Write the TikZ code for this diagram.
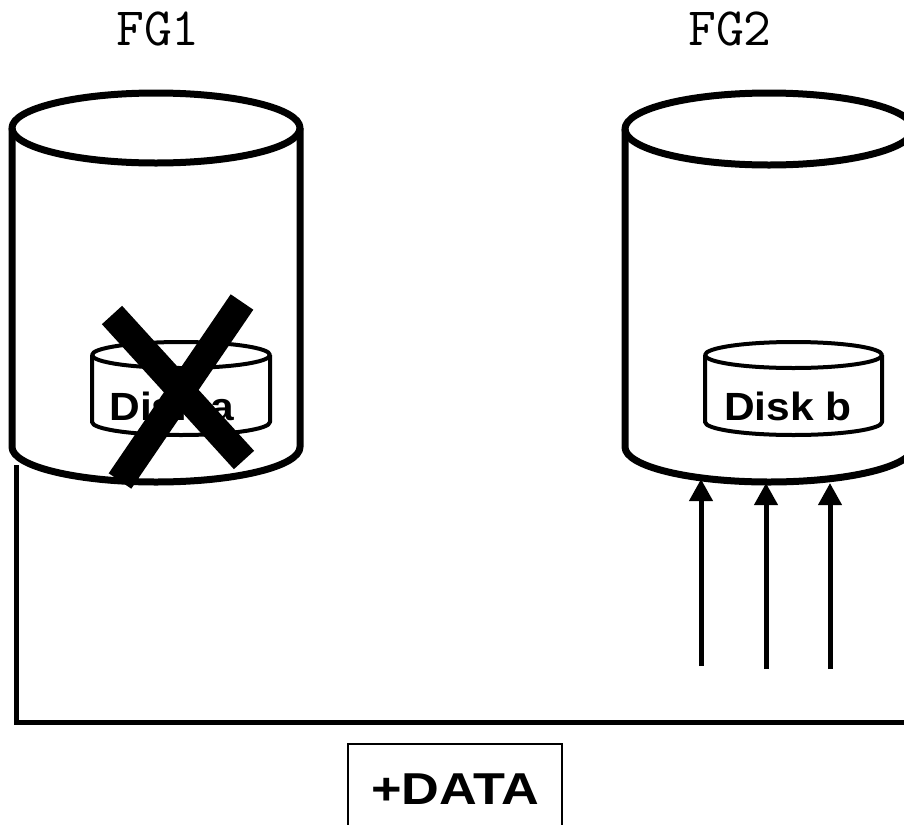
\documentclass[tikz,border=0pt]{standalone}
\usepackage{fontspec}
\setmainfont{Liberation Sans}
\newfontfamily\widesans[FakeStretch=1.17]{Liberation Sans}
\newfontfamily\disksans[FakeStretch=1.08]{Liberation Sans}
\usetikzlibrary{arrows.meta}
\tikzset{
  bigline/.style={line width=5.25pt, line join=round},
  diskline/.style={line width=3pt, line join=round},
  crossbar/.style={line width=20.5pt},
  flowline/.style={line width=3.75pt, -{Triangle[length=16.5pt,width=17pt]}},
  wireline/.style={line width=3.75pt, line join=miter},
  fglabel/.style={font=\ttfamily\fontsize{40.5}{46}\selectfont, inner sep=0pt},
  disklabel/.style={font=\disksans\bfseries\fontsize{29.5}{34}\selectfont, anchor=base, inner sep=0pt},
  databox/.style={draw, line width=1.1pt, minimum width=160.5pt, minimum height=68pt, inner sep=0pt, font=\widesans\bfseries\fontsize{33.5}{38}\selectfont}
}
\begin{document}
\begin{tikzpicture}[x=0.75pt,y=-0.75pt]
\useasboundingbox (0,0) rectangle (904,825);
\clip (0,0) rectangle (904,825);

% labels
\node[fglabel] (fg1) at (158,29) {FG1};
\node[fglabel] (fg2) at (730,29) {FG2};

% FG1 cylinder
\draw[bigline, fill=white] (12,128) -- (12,447) arc[start angle=180,end angle=360,x radius=108pt,y radius=26.25pt] -- (300,128);
\draw[bigline] (156,128) ellipse [x radius=108pt, y radius=26.25pt];

% Disk a
\draw[diskline, fill=white] (92,355) -- (92,422) arc[start angle=180,end angle=360,x radius=66.75pt,y radius=9.75pt] -- (270,355);
\draw[diskline] (181,355) ellipse [x radius=66.75pt, y radius=9.75pt];
\node[disklabel] (la) at (172,420) {Disk a};

% cross
\draw[crossbar] (242,302) -- (120,481);
\draw[crossbar] (112,315) -- (244,460);

% FG2 cylinder
\draw[bigline, fill=white] (625,129) -- (625,447) arc[start angle=180,end angle=360,x radius=108pt,y radius=26.25pt] -- (913,129);
\draw[bigline] (769,129) ellipse [x radius=108pt, y radius=27pt];

% Disk b
\draw[diskline, fill=white] (705,355) -- (705,422) arc[start angle=180,end angle=360,x radius=66.4pt,y radius=9.75pt] -- (882,355);
\draw[diskline] (793.5,355) ellipse [x radius=66.4pt, y radius=9.75pt];
\node[disklabel] (lb) at (788,420) {Disk b};

% arrows into FG2
\coordinate (s1) at (701,666);
\coordinate (t1) at (701,479);
\coordinate (s2) at (766,669);
\coordinate (t2) at (766,483);
\coordinate (s3) at (830,669);
\coordinate (t3) at (830,483);
\draw[flowline] (s1) -- (t1);
\draw[flowline] (s2) -- (t2);
\draw[flowline] (s3) -- (t3);

% wire from FG1
\coordinate (w0) at (16.5,465);
\coordinate (w1) at (16.5,722);
\coordinate (w2) at (910,722);
\draw[wireline] (w0) -- (w1) -- (w2);

% data box
\node[databox] (data) at (455,789.5) {+DATA};
\end{tikzpicture}
\end{document}
